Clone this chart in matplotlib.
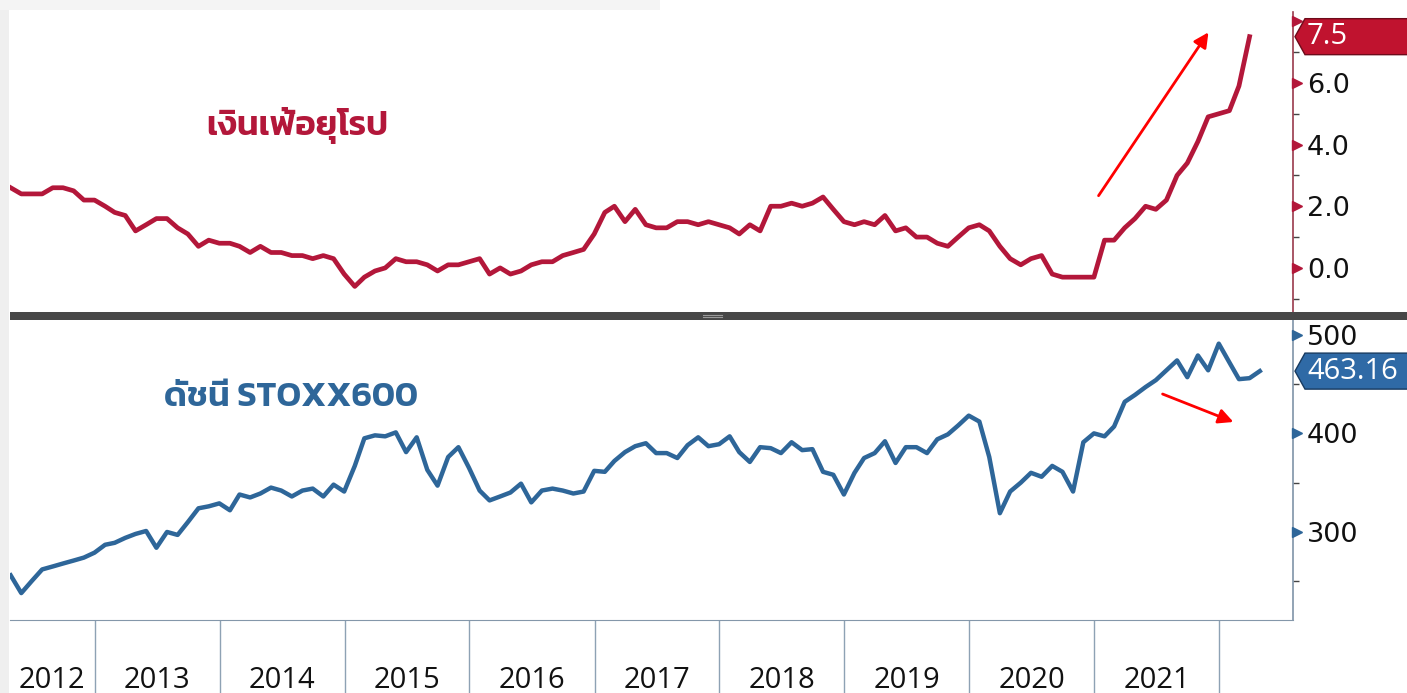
import matplotlib
matplotlib.use("Agg")

import matplotlib.pyplot as plt
import matplotlib.dates as mdates
import matplotlib.transforms as mtransforms
import numpy as np
import pandas as pd
from matplotlib import font_manager
from matplotlib.patches import Polygon, Rectangle
from fontTools.ttLib import TTFont

W, H = 1407, 693

# monthly data, Apr 2012 onwards
inflation = [
    2.6, 2.4, 2.4, 2.4, 2.6, 2.6, 2.5, 2.2, 2.2,
    2.0, 1.8, 1.7, 1.2, 1.4, 1.6, 1.6, 1.3, 1.1, 0.7, 0.9, 0.8,
    0.8, 0.7, 0.5, 0.7, 0.5, 0.5, 0.4, 0.4, 0.3, 0.4, 0.3, -0.2,
    -0.6, -0.3, -0.1, 0.0, 0.3, 0.2, 0.2, 0.1, -0.1, 0.1, 0.1, 0.2,
    0.3, -0.2, 0.0, -0.2, -0.1, 0.1, 0.2, 0.2, 0.4, 0.5, 0.6, 1.1,
    1.8, 2.0, 1.5, 1.9, 1.4, 1.3, 1.3, 1.5, 1.5, 1.4, 1.5, 1.4,
    1.3, 1.1, 1.4, 1.2, 2.0, 2.0, 2.1, 2.0, 2.1, 2.3, 1.9, 1.5,
    1.4, 1.5, 1.4, 1.7, 1.2, 1.3, 1.0, 1.0, 0.8, 0.7, 1.0, 1.3,
    1.4, 1.2, 0.7, 0.3, 0.1, 0.3, 0.4, -0.2, -0.3, -0.3, -0.3, -0.3,
    0.9, 0.9, 1.3, 1.6, 2.0, 1.9, 2.2, 3.0, 3.4, 4.1, 4.9, 5.0,
    5.1, 5.9, 7.5,
]

stoxx600 = [
    256, 238, 250, 262, 265, 268, 271, 274, 279,
    287, 289, 294, 298, 301, 284, 300, 297, 310, 324, 326, 329,
    322, 338, 335, 339, 345, 342, 336, 342, 344, 336, 348, 341,
    367, 395, 398, 397, 401, 381, 396, 363, 347, 376, 386, 365,
    342, 332, 336, 340, 349, 330, 342, 344, 342, 339, 341, 362,
    361, 372, 381, 387, 390, 380, 380, 375, 388, 396, 387, 389,
    397, 381, 371, 386, 385, 380, 391, 383, 384, 361, 358, 338,
    360, 375, 380, 392, 370, 386, 386, 380, 394, 399, 408, 418,
    412, 376, 319, 341, 350, 360, 356, 367, 361, 341, 391, 400,
    397, 407, 432, 439, 447, 454, 464, 474, 457, 479, 464, 491,
    472, 455, 456, 463.16,
]

years = list(range(2012, 2022))
infl_ticks = [0, 2, 4, 6, 8]
stoxx_ticks = [300, 400, 500]

label_infl = "เงินเฟ้อยุโรป"
label_stoxx = "ดัชนี STOXX600"

RED = "#b3173a"
BLUE = "#2e6699"


def thai_family(preferred=("Kanit", "Prompt", "Anuphan", "Noto Sans Thai")):
    found = []
    for f in font_manager.fontManager.ttflist:
        try:
            cmap = TTFont(f.fname, fontNumber=0, lazy=True).getBestCmap()
        except Exception:
            continue
        if cmap and 0x0E07 in cmap:
            found.append(f.name)
    for name in preferred:
        if name in found:
            return name
    return found[0] if found else "DejaVu Sans"


def month_ends(n):
    return pd.date_range("2012-04-01", periods=n, freq="MS") + pd.offsets.MonthEnd(0)


def style_yaxis(ax, major, spine_color, tri_color):
    ax.yaxis.tick_right()
    ax.set_yticks(major)
    ax.tick_params(axis="y", which="major", length=0, pad=10, labelsize=19.5,
                   labelcolor="#111111")
    ax.tick_params(axis="y", which="minor", length=4, width=1, color="#444444")
    for side in ["left", "top", "bottom"]:
        ax.spines[side].set_visible(False)
    ax.spines["right"].set_color(spine_color)
    ax.spines["right"].set_linewidth(1.2)
    off = mtransforms.ScaledTranslation(4 / 100, 0, ax.figure.dpi_scale_trans)
    ax.plot(np.ones(len(major)), major, ls="none", marker=">", ms=7,
            color=tri_color, transform=ax.get_yaxis_transform() + off,
            clip_on=False, zorder=5)


def value_tag(ax, value, text, color, edge):
    trans = ax.get_yaxis_transform()
    lo, hi = ax.get_ylim()
    pos = ax.get_position()
    half = 18 * (hi - lo) / (pos.height * H)
    px = 1 / (pos.width * W)
    x0, x1, x2 = 1 + 2 * px, 1 + 12 * px, 1 + 140 * px
    tag = Polygon([(x0, value), (x1, value + half), (x2, value + half),
                   (x2, value - half), (x1, value - half)],
                  closed=True, transform=trans, facecolor=color, edgecolor=edge,
                  lw=1, clip_on=False, zorder=10)
    ax.add_patch(tag)
    ax.text(1 + 14 * px, value, text, transform=trans, color="white",
            fontsize=21, family="Open Sans", va="center", ha="left",
            zorder=11, clip_on=False)


thai = thai_family()

fig = plt.figure(figsize=(W / 100, H / 100), dpi=100, facecolor="white")
ax1 = fig.add_axes([10 / W, 1 - 312 / H, 1283 / W, 300 / H])
ax2 = fig.add_axes([10 / W, 1 - 620 / H, 1283 / W, 300 / H], sharex=ax1)

ax1.plot(month_ends(len(inflation)), inflation, color=RED, lw=3.4)
ax2.plot(month_ends(len(stoxx600)), stoxx600, color=BLUE, lw=3.2)

ax1.set_xlim(pd.Timestamp("2012-04-28"), pd.Timestamp("2022-08-05"))
ax1.set_ylim(-1.43, 8.3)
ax2.set_ylim(210.7, 515)

style_yaxis(ax1, infl_ticks, "#9a3a4c", RED)
# the 8.0 label sits under the last-value tag
ax1.set_yticklabels([f"{t:.1f}" if t < 8 else "" for t in infl_ticks])
ax1.yaxis.set_minor_locator(matplotlib.ticker.FixedLocator([-1, 1, 3, 5, 7]))
ax1.tick_params(axis="x", which="both", bottom=False, labelbottom=False)

style_yaxis(ax2, stoxx_ticks, "#7f93a8", BLUE)
ax2.yaxis.set_minor_locator(matplotlib.ticker.FixedLocator([250, 350, 450]))
ax2.spines["bottom"].set_visible(True)
ax2.spines["bottom"].set_color("#8497aa")

# year separators below the chart, labels centred in each year
left = mdates.num2date(ax2.get_xlim()[0]).replace(tzinfo=None)
seps = [pd.Timestamp(f"{y + 1}-01-01") for y in years]
mids = []
for y in years:
    start = max(pd.Timestamp(f"{y}-01-01"), pd.Timestamp(left))
    mids.append(start + (pd.Timestamp(f"{y + 1}-01-01") - start) / 2)
ax2.set_xticks(seps)
ax2.set_xticklabels([])
ax2.set_xticks(mids, minor=True)
ax2.set_xticklabels([str(y) for y in years], minor=True, family="Open Sans")
ax2.tick_params(axis="x", which="major", length=53, width=1, color="#8ea2b4")
ax2.tick_params(axis="x", which="minor", length=0, pad=33, labelsize=21,
                labelcolor="#111111")

ax1.text(0.224, 0.62, label_infl, transform=ax1.transAxes, color=RED,
         fontsize=25, fontweight="semibold", family=[thai, "DejaVu Sans"],
         ha="center", va="center")
ax2.text(0.219, 0.743, label_stoxx, transform=ax2.transAxes, color=BLUE,
         fontsize=25, fontweight="semibold", family=[thai, "DejaVu Sans"],
         ha="center", va="center")

value_tag(ax1, inflation[-1], f"{inflation[-1]:.1f}", "#c0132f", "#6e0a1a")
value_tag(ax2, stoxx600[-1], f"{stoxx600[-1]:.2f}", "#2f6aa6", "#173a60")

# red trend arrows
ax1.annotate("", xy=(1210, H - 30), xytext=(1097, H - 198), xycoords="figure pixels",
             textcoords="figure pixels",
             arrowprops=dict(arrowstyle="-|>", color="#ff0000", lw=2, mutation_scale=22))
ax2.annotate("", xy=(1236, H - 423), xytext=(1160, H - 393), xycoords="figure pixels",
             textcoords="figure pixels",
             arrowprops=dict(arrowstyle="-|>", color="#ff0000", lw=2, mutation_scale=22))

# panel divider and grey frame edges
fig.add_artist(Rectangle((10 / W, 1 - 320 / H), 1, 8 / H, transform=fig.transFigure,
                         facecolor="#474747", edgecolor="none"))
for dy in (314.5, 317):
    fig.add_artist(plt.Line2D([703 / W, 722 / W], [1 - dy / H] * 2, color="#9a9a9a", lw=0.8))
fig.add_artist(Rectangle((0, 0), 9 / W, 1, transform=fig.transFigure,
                         facecolor="#efefef", edgecolor="none"))
fig.add_artist(Rectangle((0, 1 - 10 / H), 660 / W, 10 / H, transform=fig.transFigure,
                         facecolor="#f4f4f4", edgecolor="none"))

fig.savefig("out.png", dpi=100, facecolor=fig.get_facecolor())
plt.close(fig)
